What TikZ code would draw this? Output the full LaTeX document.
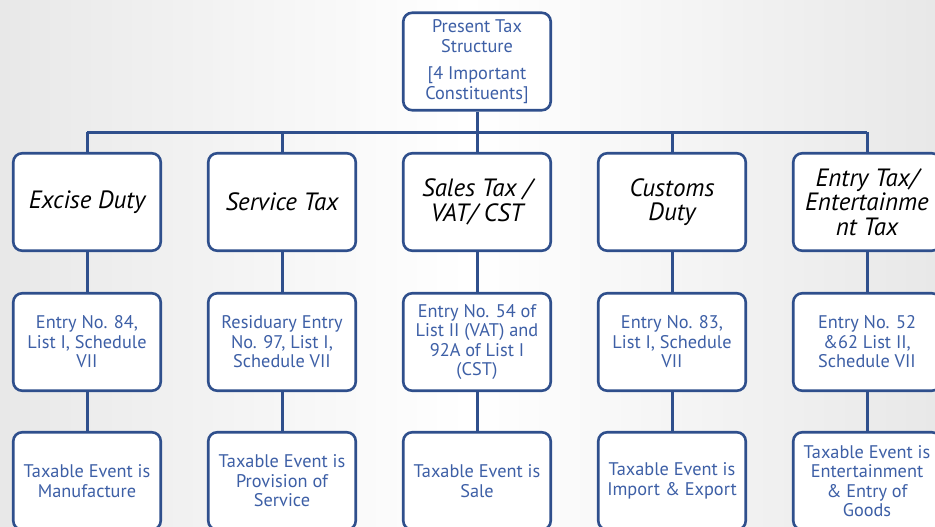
\documentclass[tikz,border=0pt]{standalone}
\usepackage{fontspec}
\setmainfont{PT Sans}
\definecolor{bordc}{HTML}{2F4F8C}
\definecolor{txtb}{HTML}{3D5FA6}
\begin{document}
\begin{tikzpicture}[x=1pt,y=-1pt,
  box/.style={draw=bordc, line width=2.6pt, rounded corners=9pt, minimum width=147.5pt, minimum height=97.5pt, align=center, inner sep=0pt, fill=white},
  bluetxt/.style={box, text=txtb, font=\fontsize{18.3}{19.5}\selectfont},
  ittxt/.style={box, text=black, font=\fontsize{25}{24.5}\selectfont\itshape},
  conn/.style={draw=bordc, line width=3pt}]
\useasboundingbox (0,0) rectangle (935,527);
\clip (0,0) rectangle (935,527);
\shade[left color=gray!18, right color=gray!18, middle color=white] (0,0) rectangle (935,527);
\node[bluetxt] (top) at (477,61.5) {Present Tax\\Structure\\[8pt][4 Important\\Constituents]};
% row 1
\node[ittxt] (a1) at (87,202) {Excise Duty};
\node[ittxt] (a2) at (282,202) {Service Tax};
\node[ittxt] (a3) at (477,202) {Sales Tax /\\VAT/ CST};
\node[ittxt] (a4) at (672,202) {Customs\\Duty};
\node[ittxt] (a5) at (867,202) {Entry Tax/\\Entertainme\\nt Tax};
% row 2
\node[bluetxt] (b1) at (87,342) {Entry No. 84,\\List I, Schedule\\VII};
\node[bluetxt] (b2) at (282,342) {Residuary Entry\\No. 97, List I,\\Schedule VII};
\node[bluetxt] (b3) at (477,342) {Entry No. 54 of\\List II (VAT) and\\92A of List I\\(CST)};
\node[bluetxt] (b4) at (672,342) {Entry No. 83,\\List I, Schedule\\VII};
\node[bluetxt] (b5) at (867,342) {Entry No. 52\\\&62 List II,\\Schedule VII};
% row 3
\node[bluetxt] (c1) at (87,481) {Taxable Event is\\Manufacture};
\node[bluetxt] (c2) at (282,481) {Taxable Event is\\Provision of\\Service};
\node[bluetxt] (c3) at (477,481) {Taxable Event is\\Sale};
\node[bluetxt] (c4) at (672,481) {Taxable Event is\\Import \& Export};
\node[bluetxt] (c5) at (867,481) {Taxable Event is\\Entertainment\\\& Entry of\\Goods};
% connectors
\coordinate (bar) at (477,132);
\draw[conn] (top.south) -- (bar);
\draw[conn] (a1.north |- bar) -- (a5.north |- bar);
\foreach \i in {1,...,5}{
  \draw[conn] (a\i.north |- bar) -- (a\i.north);
  \draw[conn] (a\i.south) -- (b\i.north);
  \draw[conn] (b\i.south) -- (c\i.north);
}
\end{tikzpicture}
\end{document}
